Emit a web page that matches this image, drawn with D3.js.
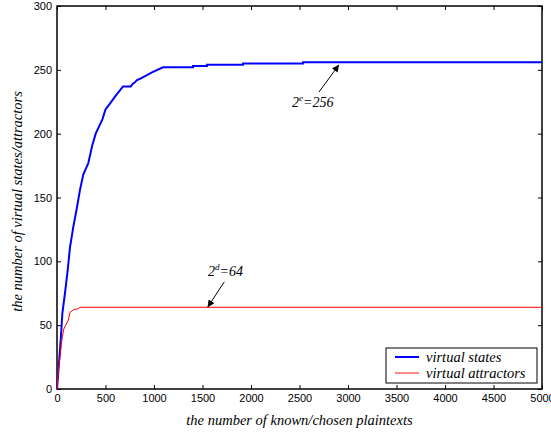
<!DOCTYPE html>
<html>
<head>
<meta charset="utf-8">
<script src="https://cdn.jsdelivr.net/npm/d3@7"></script>
<style>
  body { margin:0; background:#fff; }
  .tick text { font-family: "Liberation Sans", Arial, sans-serif; font-size: 11px; fill:#000; }
  .lbl { font-family: "Liberation Serif", "DejaVu Serif", serif; font-style: italic; font-size: 14.5px; fill:#000; }
</style>
</head>
<body>
<svg width="551" height="432"></svg>
<script>
// values
var xTicks = [0,500,1000,1500,2000,2500,3000,3500,4000,4500,5000]
var yTicks = [0,50,100,150,200,250,300]
var statesX = [0,20,40,55,82,110,134,168,203,237,271,323,364,399,467,500,540,598,681,760,780,800,825,856,979,1093,1402,1402,1546,1546,1918,1918,2536,2536,5000]
var statesY = [0,20,40,59,75,93,111,127,141,156,168,177,191,200,211,219,223,229,237,237,239,240,242,243,248,252,252,253,253,254,254,255,255,256,256]
var attrX = [0,15,31,45,56,70,90,117,134,168,220,237,5000]
var attrY = [0,15,25,35,41,47,50,54,60,62,63,64,64]
var legendNames = ["virtual states","virtual attractors"]
var colors = ["#0000ff","#ff0000"]

var margins = {top:6, right:9, bottom:43, left:57}
var screen = {width:551, height:432}
var width = screen.width - margins.left - margins.right
var height = screen.height - margins.top - margins.bottom

var svg = d3.select("svg")
var g = svg.append("g").attr("transform","translate("+margins.left+","+margins.top+")")

var xScale = d3.scaleLinear().domain([0,5000]).range([0,width])
var yScale = d3.scaleLinear().domain([0,300]).range([height,0])

//axes, ticks pointing inward
g.append("g").attr("transform","translate(0,"+height+")")
  .call(d3.axisBottom(xScale).tickValues(xTicks).tickSizeInner(-4).tickSizeOuter(0).tickPadding(5).tickFormat(d3.format("d")))
g.append("g")
  .call(d3.axisLeft(yScale).tickValues(yTicks).tickSizeInner(-4).tickSizeOuter(0).tickPadding(5))
g.append("g")
  .call(d3.axisTop(xScale).tickValues(xTicks).tickSizeInner(-4).tickSizeOuter(0).tickFormat(""))
g.append("g").attr("transform","translate("+width+",0)")
  .call(d3.axisRight(yScale).tickValues(yTicks).tickSizeInner(-4).tickSizeOuter(0).tickFormat(""))
g.selectAll(".domain").remove()
g.selectAll(".tick line").attr("stroke","#000")
g.append("rect").attr("width",width).attr("height",height)
  .attr("fill","none").attr("stroke","#000").attr("stroke-width",1.5)

var line = d3.line()
  .x(function(d){return xScale(d[0])})
  .y(function(d){return yScale(d[1])})

var statesData = statesX.map(function(x,i){return [x,statesY[i]]})
var attrData = attrX.map(function(x,i){return [x,attrY[i]]})

g.append("path").datum(statesData).attr("d",line)
  .attr("fill","none").attr("stroke",colors[0]).attr("stroke-width",2)
g.append("path").datum(attrData).attr("d",line)
  .attr("fill","none").attr("stroke",colors[1]).attr("stroke-width",1)

//annotations
svg.append("defs").append("marker").attr("id","arr")
  .attr("viewBox","0 0 10 10").attr("refX",10).attr("refY",5)
  .attr("markerWidth",9).attr("markerHeight",7).attr("orient","auto")
  .attr("markerUnits","userSpaceOnUse")
  .append("path").attr("d","M0,0L10,5L0,10z").attr("fill","#000")

var annos = [
  {tx:2423, ty:221, hx:2907, hy:254, sup:"e", rest:"=256", ax:2701, ay:232.6},
  {tx:1557, ty:88.5, hx:1553, hy:64, sup:"d", rest:"=64", ax:1725, ay:84}
]
annos.forEach(function(a){
  g.append("line")
    .attr("x1",xScale(a.ax)).attr("y1",yScale(a.ay))
    .attr("x2",xScale(a.hx)).attr("y2",yScale(a.hy))
    .attr("stroke","#000").attr("stroke-width",1).attr("marker-end","url(#arr)")
  var t = g.append("text").attr("class","lbl").style("font-size","14px")
    .attr("x",xScale(a.tx)).attr("y",yScale(a.ty))
  t.append("tspan").text("2")
  t.append("tspan").attr("dy",-6).style("font-size","9px").text(a.sup)
  t.append("tspan").attr("dy",6).text(a.rest)
})

//legend
var lg = g.append("g").attr("transform","translate("+(386-margins.left)+","+(348-margins.top)+")")
lg.append("rect").attr("width",151).attr("height",35)
  .attr("fill","#fff").attr("stroke","#000").attr("stroke-width",1)
var items = lg.selectAll("g.item").data(legendNames).enter().append("g")
  .attr("transform",function(d,i){return "translate(0,"+(9+i*16)+")"})
items.append("line").attr("x1",9).attr("x2",33).attr("y1",0).attr("y2",0)
  .attr("stroke",function(d,i){return colors[i]})
  .attr("stroke-width",function(d,i){return i==0?2:1.5})
  .attr("opacity",function(d,i){return i==0?1:0.6})
items.append("text").attr("class","lbl").attr("x",40).attr("y",5).text(function(d){return d})

//axis titles
svg.append("text").attr("class","lbl").attr("text-anchor","middle")
  .attr("x",margins.left+width/2).attr("y",425).text("the number of known/chosen plaintexts")
svg.append("text").attr("class","lbl").attr("text-anchor","middle")
  .attr("transform","translate(22,"+(margins.top+height/2+4)+") rotate(-90)")
  .text("the number of virtual states/attractors")
</script>
</body>
</html>
